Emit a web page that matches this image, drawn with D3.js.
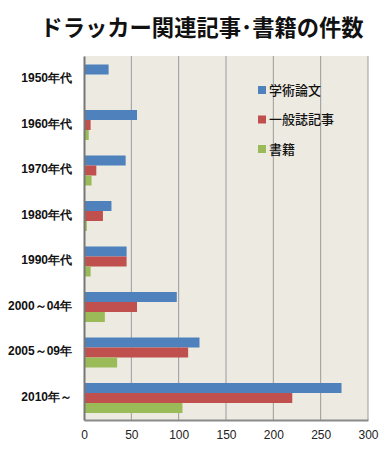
<!DOCTYPE html>
<html>
<head>
<meta charset="utf-8">
<script src="https://cdn.jsdelivr.net/npm/d3@7"></script>
<style>
  body { margin: 0; background: #fff; }
  svg { display: block; font-family: "Noto Sans CJK JP", "Noto Sans", sans-serif; }
</style>
</head>
<body>
<div id="chart"></div>
<script>
var categories = ["1950年代", "1960年代", "1970年代", "1980年代", "1990年代", "2000～04年", "2005～09年", "2010年～"];
var seriesNames = ["学術論文", "一般誌記事", "書籍"];
var academic = [26, 56, 44, 29, 45, 98, 122, 272];
var magazine = [0, 7, 13, 20, 45, 56, 110, 220];
var books = [0, 5, 8, 3, 7, 22, 35, 104];
var xTicks = [0, 50, 100, 150, 200, 250, 300];
var colors = ["#4F81BD", "#C0504D", "#9BBB59"];

var width = 392, height = 452;
var margin = { top: 56, right: 24, bottom: 32, left: 84 };

var svg = d3.select("#chart").append("svg")
  .attr("width", width)
  .attr("height", height);

svg.append("text")
  .attr("x", 202)
  .attr("y", 36)
  .attr("text-anchor", "middle")
  .attr("font-size", 22.3)
  .attr("font-weight", 700)
  .attr("fill", "#111")
  .text("ドラッカー関連記事･書籍の件数");

var x = d3.scaleLinear().domain([0, 300]).range([margin.left, width - margin.right]);
var y = d3.scaleBand().domain(categories).range([margin.top, height - margin.bottom]);
var inner = d3.scaleBand().domain(seriesNames).range([8.5, 38.5]);

// plot background
svg.append("rect")
  .attr("x", x(0)).attr("y", margin.top)
  .attr("width", x(300) - x(0))
  .attr("height", height - margin.bottom - margin.top)
  .attr("fill", "#EDEAE2");

// grid lines
svg.append("g")
  .selectAll("line")
  .data(xTicks.slice(1))
  .join("line")
  .attr("x1", d => x(d)).attr("x2", d => x(d))
  .attr("y1", margin.top).attr("y2", height - margin.bottom)
  .attr("stroke", "#9a9a9a")
  .attr("stroke-width", 1);

var series = [academic, magazine, books];
var rows = [];
categories.forEach(function (c, i) {
  seriesNames.forEach(function (s, j) {
    rows.push({ cat: c, name: s, value: series[j][i], color: colors[j] });
  });
});

svg.append("g")
  .selectAll("rect")
  .data(rows.filter(d => d.value > 0))
  .join("rect")
  .attr("x", x(0))
  .attr("y", d => y(d.cat) + inner(d.name))
  .attr("width", d => x(d.value) - x(0))
  .attr("height", inner.bandwidth())
  .attr("fill", d => d.color);

// axes
var xAxis = svg.append("g")
  .attr("transform", "translate(0," + (height - margin.bottom) + ")")
  .call(d3.axisBottom(x).tickValues(xTicks).tickSize(0).tickPadding(10));
xAxis.select(".domain").attr("stroke", "#8a8a8a").attr("stroke-width", 2);
xAxis.selectAll("text").attr("font-size", 12).attr("fill", "#222")
  .attr("font-family", "'Liberation Sans', 'DejaVu Sans', sans-serif");

var yAxis = svg.append("g")
  .attr("transform", "translate(" + x(0) + ",0)")
  .call(d3.axisLeft(y).tickSize(0).tickPadding(12));
yAxis.select(".domain").attr("stroke", "#777").attr("stroke-width", 2);
yAxis.selectAll("text").attr("font-size", 12).attr("font-weight", 700).attr("fill", "#111")
  .attr("dy", "0.3em");

// legend
var legend = svg.append("g").attr("transform", "translate(258,90)");
var item = legend.selectAll("g")
  .data(seriesNames)
  .join("g")
  .attr("transform", (d, i) => "translate(0," + (i * 29.5) + ")");
item.append("rect")
  .attr("x", 0).attr("y", -4)
  .attr("width", 8).attr("height", 8)
  .attr("fill", (d, i) => colors[i]);
item.append("text")
  .attr("x", 11).attr("y", 0)
  .attr("dy", "0.35em")
  .attr("font-size", 13)
  .attr("font-weight", 500)
  .attr("fill", "#111")
  .text(d => d);
</script>
</body>
</html>
